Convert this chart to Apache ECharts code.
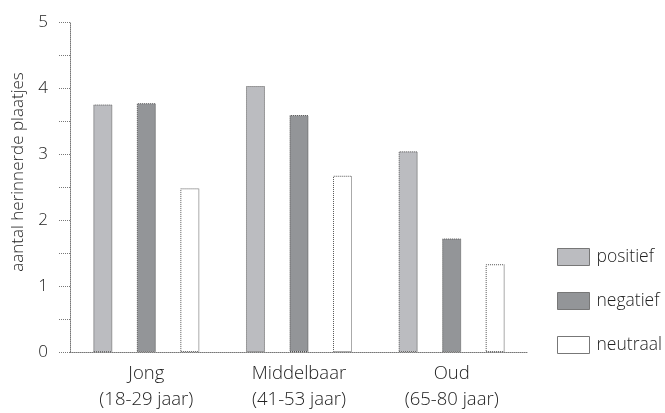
<!DOCTYPE html>
<html>
<head>
<meta charset="utf-8">
<script src="https://cdn.jsdelivr.net/npm/echarts@6/dist/echarts.min.js"></script>
<style>html,body{margin:0;padding:0;background:#fff}#c{width:665px;height:413px}</style>
</head>
<body>
<div id="c"></div>
<script>
var categories = ['Jong\n(18-29 jaar)', 'Middelbaar\n(41-53 jaar)', 'Oud\n(65-80 jaar)'];
var positief = [3.75, 4.03, 3.04];
var negatief = [3.77, 3.59, 1.72];
var neutraal = [2.48, 2.67, 1.33];
var seriesNames = ['positief', 'negatief', 'neutraal'];
var yAxisTitle = 'aantal herinnerde plaatjes';

var FONT = '"Open Sans"';
var chart = echarts.init(document.getElementById('c'));
function barStyle(color) {
  return {color: color, borderColor: '#555', borderWidth: 1, borderType: 'dotted'};
}
chart.setOption({
  animation: false,
  textStyle: {fontFamily: FONT, fontWeight: 300},
  grid: {left: 70, right: 137, top: 22, bottom: 59},
  legend: {
    orient: 'vertical', left: 552, top: 243,
    icon: 'rect',
    itemWidth: 32, itemHeight: 17, itemGap: 26,
    data: seriesNames,
    textStyle: {fontFamily: FONT, fontWeight: 300, fontSize: 17.5, color: '#222', padding: [0,0,0,2]},
    itemStyle: {borderType: 'solid', borderColor: '#777', borderWidth: 1}
  },
  graphic: [{
    type: 'text', rotation: Math.PI / 2,
    x: 18, y: 172,
    style: {text: yAxisTitle, font: '300 17px ' + FONT, fill: '#222', align: 'center', verticalAlign: 'middle'}
  }],
  xAxis: {
    type: 'category', data: categories,
    axisLine: {lineStyle: {color: '#777', type: 'dotted', width: 1}},
    axisTick: {inside: true, length: 8, lineStyle: {color: '#111', width: 1}},
    axisLabel: {fontFamily: FONT, fontWeight: 300, fontSize: 18.5, color: '#222', lineHeight: 26, margin: 9}
  },
  yAxis: {
    type: 'value', min: 0, max: 5, interval: 0.5,
    axisLine: {show: true, lineStyle: {color: '#777', type: 'dotted', width: 1}},
    axisTick: {show: true, length: 11, lineStyle: {color: '#777', type: 'dotted', width: 1}},
    splitLine: {show: false},
    axisLabel: {
      fontFamily: FONT, fontWeight: 300, fontSize: 17, color: '#222', margin: 22,
      formatter: function (v) { return v % 1 === 0 ? String(v) : ''; }
    }
  },
  series: [
    {name: seriesNames[0], type: 'bar', data: positief, barWidth: 19, barGap: '129%', itemStyle: barStyle('#bbbcc0')},
    {name: seriesNames[1], type: 'bar', data: negatief, barWidth: 19, barGap: '129%', itemStyle: barStyle('#939598')},
    {name: seriesNames[2], type: 'bar', data: neutraal, barWidth: 19, barGap: '129%', itemStyle: barStyle('#ffffff')}
  ]
});
</script>
</body>
</html>
